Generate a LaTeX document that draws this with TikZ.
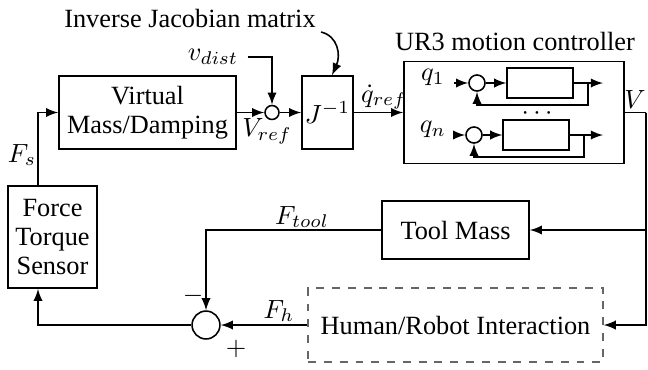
\documentclass[tikz,border=0pt]{standalone}
\usepackage{fontspec}
\setmainfont{Liberation Serif}
\usetikzlibrary{arrows,positioning,calc}
\tikzstyle{block}=[draw,semithick,align=center,inner sep=0pt]
\tikzstyle{sumvertex}=[circle,draw,semithick,inner sep=0pt]
\tikzstyle{weight} = [inner sep=1pt]

\begin{document}
\begin{tikzpicture}[x=0.38pt,y=-0.38pt,>=latex,semithick,font=\fontsize{10}{11}\selectfont]
\useasboundingbox (0,0) rectangle (648,369);

%forward path
\node[block,minimum width=67.3pt,minimum height=27.7pt] (vmd) at (147.5,112.5) {Virtual\\Mass/Damping};
\node[sumvertex,minimum size=5.3pt] (s1) at (272,112.5) {};
\node[block,minimum width=19.4pt,minimum height=27.7pt] (jinv) at (327.5,112.5) {$J^{-1}$};
\node[block,minimum width=83.6pt,minimum height=38.8pt] (ctrl) at (514,112.5) {};
\node (ctrltitle) at (515,41) {UR3 motion controller};
\node (ijm) at (190,18) {Inverse Jacobian matrix};
\node (vdist) at (213,57) {$v_{dist}$};

\draw[->] (vmd) -- (s1);
\draw[->] (vdist) -| (s1);
\draw[->] (s1) -- (jinv);
\draw[->] (jinv) -- (ctrl);
\draw[->] (321,32) .. controls (338,36) and (341,55) .. ([xshift=1.7pt]jinv.north);

\node[weight] at (267,131) {$V_{ref}$};
\node[weight] at (384,97) {$\dot{q}_{ref}$};

%UR3 controller
\foreach \name/\q/\cx/\gx/\gw/\y/\bx in {1/$q_1$/477/540/25/83/588, n/$q_n$/474/536/25/135/584}
{
  \node (q\name) at (433,\y-6) {\q};
  \node[sumvertex,minimum size=6.1pt] (c\name) at (\cx,\y) {};
  \node[block,minimum width=\gw pt,minimum height=11.2pt] (g\name) at (\gx,\y) {};
  \coordinate (o\name) at (603,\y);
  \coordinate (b\name) at (\bx,\y);
  \draw[->] (q\name.east |- c\name) -- (c\name);
  \draw[->] (c\name) -- (g\name);
  \draw[->] (g\name) -- (o\name);
  \draw[->] (b\name) -- ++(0,22) -| (c\name);
}
\node at (537,114) {$\cdots$};

%feedback
\node (vlabel) at (635,100) {$V$};
\coordinate (vout) at (646,112.5);
\node[block,minimum width=55.9pt,minimum height=22pt] (tool) at (455.5,230) {Tool Mass};
\node[block,dashed,gray!80!black,text=black,minimum width=112pt,minimum height=28.1pt] (hri) at (455.5,325) {Human/Robot Interaction};
\node[sumvertex,minimum size=10.6pt] (s2) at (206,325) {};
\node[block,minimum width=33.8pt,minimum height=38.8pt] (sensor) at (52.5,237) {Force\\Torque\\Sensor};

\draw (ctrl) -- (vout);
\draw[->] (vout) |- (tool);
\draw[->] (vout) |- (hri);
\draw[->] (tool) -| (s2);
\draw[->] (hri) -- (s2);
\draw[->] (s2) -| ([xshift=-5.5pt]sensor.south);
\draw[->] ([xshift=-5.5pt]sensor.north) |- (vmd);

\node[weight] at (302,217) {$F_{tool}$};
\node[weight] at (279,311) {$F_h$};
\node at (193,296) {$-$};
\node at (236,349) {$+$};
\node[weight] at (22,155) {$F_s$};

\end{tikzpicture}
\end{document}
